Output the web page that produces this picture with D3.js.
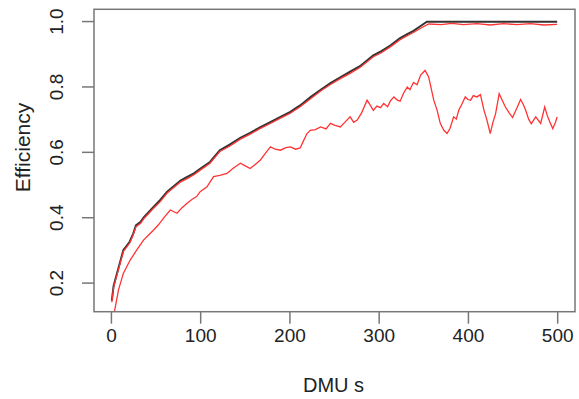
<!DOCTYPE html>
<html><head><meta charset="utf-8">
<script src="https://cdn.jsdelivr.net/npm/d3@7/dist/d3.min.js"></script>
<style>
html,body{margin:0;padding:0;background:#fff;}
svg{display:block;font-family:"Liberation Sans",Arial,sans-serif;}
</style></head>
<body>
<svg id="chart" width="579" height="399"></svg>
<script>
// DMU positions and efficiencies
const blackX  = [1, 3, 6, 10, 14, 17, 21, 25, 28, 33, 37, 48, 55, 63, 70, 78, 86, 93, 100, 111, 122, 133, 145, 156, 167, 178, 190, 201, 212, 224, 235, 246, 257, 268, 279, 294, 303, 313, 324, 332, 339, 347, 354, 500];
const blackY  = [0.145, 0.19, 0.22, 0.26, 0.30, 0.31, 0.325, 0.35, 0.375, 0.385, 0.40, 0.432, 0.452, 0.478, 0.494, 0.512, 0.524, 0.534, 0.548, 0.569, 0.605, 0.622, 0.643, 0.658, 0.675, 0.69, 0.707, 0.722, 0.742, 0.768, 0.79, 0.81, 0.828, 0.845, 0.862, 0.895, 0.908, 0.925, 0.948, 0.96, 0.97, 0.985, 0.998, 0.998];
const redTopX = [1, 3, 6, 10, 14, 17, 21, 25, 28, 33, 37, 48, 55, 63, 70, 78, 86, 93, 100, 111, 122, 133, 145, 156, 167, 178, 190, 201, 212, 224, 235, 246, 257, 268, 279, 294, 303, 313, 324, 332, 339, 347, 356, 370, 382, 395, 410, 425, 440, 455, 470, 485, 500];
const redTopY = [0.14, 0.186, 0.216, 0.256, 0.296, 0.306, 0.321, 0.346, 0.371, 0.381, 0.396, 0.428, 0.447, 0.474, 0.49, 0.508, 0.519, 0.53, 0.544, 0.565, 0.601, 0.617, 0.639, 0.654, 0.671, 0.686, 0.703, 0.718, 0.738, 0.763, 0.786, 0.806, 0.824, 0.84, 0.858, 0.891, 0.903, 0.921, 0.943, 0.955, 0.965, 0.978, 0.991, 0.989, 0.993, 0.989, 0.992, 0.988, 0.992, 0.989, 0.992, 0.988, 0.99];
const lowX = [4, 8.5, 14, 21.6, 29, 36.5, 42, 47.8, 53, 59, 66.5, 74, 80, 85, 91, 96, 100, 107.6, 115, 122, 130, 137, 145, 150, 156, 162, 167.5, 173, 178.7, 184, 190, 196, 201, 207, 212, 216, 219.7, 223.4, 229, 235, 241, 246, 251, 257, 262, 268, 272, 276, 281, 287, 290, 294, 298, 302, 305.6, 310, 313, 317, 321, 324, 328, 332, 335, 339, 343, 347, 352, 356, 361.7, 365.5, 369, 373, 376.6, 380, 384, 387, 389.7, 393, 397, 400, 403, 406, 410, 414, 418, 421, 425, 428, 431, 435, 438, 442, 446, 450, 455, 459, 462, 464.7, 468, 471, 476, 481.5, 486, 489, 492.5, 495, 498, 500];
const lowY = [0.112, 0.178, 0.229, 0.269, 0.30, 0.33, 0.345, 0.361, 0.376, 0.397, 0.422, 0.412, 0.43, 0.442, 0.455, 0.463, 0.478, 0.493, 0.524, 0.528, 0.534, 0.55, 0.565, 0.558, 0.549, 0.562, 0.575, 0.595, 0.615, 0.608, 0.605, 0.613, 0.615, 0.608, 0.612, 0.635, 0.656, 0.666, 0.668, 0.676, 0.67, 0.687, 0.681, 0.676, 0.69, 0.707, 0.69, 0.697, 0.72, 0.758, 0.745, 0.727, 0.74, 0.735, 0.748, 0.738, 0.755, 0.768, 0.758, 0.755, 0.78, 0.798, 0.79, 0.812, 0.805, 0.835, 0.849, 0.829, 0.758, 0.727, 0.687, 0.666, 0.656, 0.672, 0.707, 0.7, 0.727, 0.745, 0.768, 0.76, 0.758, 0.772, 0.768, 0.775, 0.727, 0.70, 0.656, 0.69, 0.717, 0.778, 0.76, 0.737, 0.72, 0.705, 0.735, 0.76, 0.745, 0.727, 0.70, 0.686, 0.707, 0.687, 0.737, 0.71, 0.687, 0.671, 0.69, 0.707];
const xTicks = [0, 100, 200, 300, 400, 500];
const yTicks = [0.2, 0.4, 0.6, 0.8, 1.0];
const xLabel = "DMU s";
const yLabel = "Efficiency";

const L = 94, R = 575, T = 9.3, B = 311.7;
const svg = d3.select("#chart");
const x = d3.scaleLinear().domain([-18.96, 519.96]).range([L, R]);
const y = d3.scaleLinear().domain([0.111, 1.036]).range([B, T]);

svg.append("defs").append("clipPath").attr("id", "clip")
  .append("rect").attr("x", L).attr("y", T).attr("width", R - L).attr("height", B - T);

const line = d3.line().x(d => x(d[0])).y(d => y(d[1]));
const g = svg.append("g").attr("clip-path", "url(#clip)");
g.append("path").datum(blackX.map((v, i) => [v, blackY[i]]))
  .attr("d", line).attr("fill", "none").attr("stroke", "#333").attr("stroke-width", 2);
g.append("path").datum(redTopX.map((v, i) => [v, redTopY[i]]))
  .attr("d", line).attr("fill", "none").attr("stroke", "#f33").attr("stroke-width", 1.3);
g.append("path").datum(lowX.map((v, i) => [v, lowY[i]]))
  .attr("d", line).attr("fill", "none").attr("stroke", "#f33").attr("stroke-width", 1.3);

// box
svg.append("rect").attr("x", L).attr("y", T).attr("width", R - L).attr("height", B - T)
  .attr("fill", "none").attr("stroke", "#777").attr("stroke-width", 1.5);

// x axis
const xa = svg.append("g").attr("transform", `translate(0,${B})`)
  .call(d3.axisBottom(x).tickValues(xTicks).tickFormat(d3.format("d")).tickSize(12).tickPadding(5));
xa.select(".domain").remove();
xa.selectAll("line").attr("stroke", "#777").attr("stroke-width", 1.5);
xa.selectAll("text").attr("font-size", 19).attr("fill", "#222")
  .attr("font-family", "Liberation Sans, Arial, sans-serif");

// y axis
const ya = svg.append("g").attr("transform", `translate(${L},0)`)
  .call(d3.axisLeft(y).tickValues(yTicks).tickFormat(d3.format(".1f")).tickSize(12).tickPadding(0));
ya.select(".domain").remove();
ya.selectAll("line").attr("stroke", "#777").attr("stroke-width", 1.5);
ya.selectAll("text").attr("font-size", 19).attr("fill", "#222")
  .attr("font-family", "Liberation Sans, Arial, sans-serif")
  .attr("x", null).attr("dy", null)
  .attr("text-anchor", "middle")
  .attr("transform", "translate(-31,0) rotate(-90)");

svg.append("text").attr("x", (L + R) / 2 - 1).attr("y", 392).attr("text-anchor", "middle")
  .attr("font-size", 20).attr("fill", "#222").text(xLabel);
svg.append("text").attr("transform", "translate(30,147.5) rotate(-90)").attr("text-anchor", "middle")
  .attr("font-size", 21).attr("fill", "#222").text(yLabel);
</script>
</body></html>
